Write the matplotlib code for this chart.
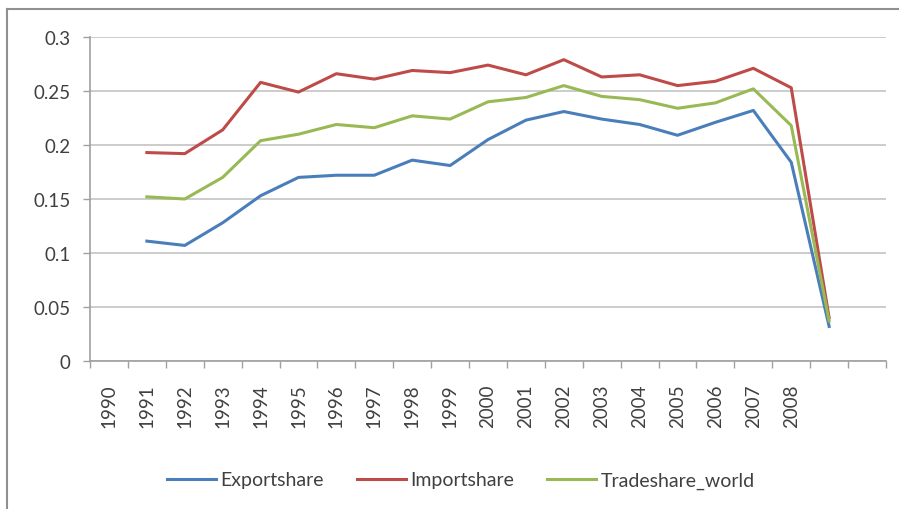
import matplotlib.pyplot as plt
from matplotlib.lines import Line2D

# category axis: 21 slots, only the first 19 carry a label
tick_labels = [str(y) for y in range(1990, 2009)]
n_slots = 21

years = list(range(1991, 2010))
exportshare = [0.111, 0.107, 0.128, 0.153, 0.170, 0.172, 0.172, 0.186, 0.181, 0.205,
               0.223, 0.231, 0.224, 0.219, 0.209, 0.221, 0.232, 0.184, 0.032]
importshare = [0.193, 0.192, 0.214, 0.258, 0.249, 0.266, 0.261, 0.269, 0.267, 0.274,
               0.265, 0.279, 0.263, 0.265, 0.255, 0.259, 0.271, 0.253, 0.040]
tradeshare_world = [0.152, 0.150, 0.170, 0.204, 0.210, 0.219, 0.216, 0.227, 0.224, 0.240,
                    0.244, 0.255, 0.245, 0.242, 0.234, 0.239, 0.252, 0.218, 0.037]

plt.rcParams['font.family'] = ['Lato', 'DejaVu Sans']

fig = plt.figure(figsize=(8.99, 5.10), dpi=100)
ax = fig.add_axes([90 / 899, 1 - 362 / 510, 796 / 899, 324 / 510])

x = [y - 1990 + 0.5 for y in years]
ax.plot(x, exportshare, color='#4A7EBB', lw=2.2, label='Exportshare', zorder=3)
ax.plot(x, importshare, color='#BE4B48', lw=2.2, label='Importshare', zorder=3)
ax.plot(x, tradeshare_world, color='#98B954', lw=2.2, label='Tradeshare_world', zorder=3)

ax.set_xlim(0, n_slots)
ax.set_ylim(0, 0.3)

yt = [0, 0.05, 0.1, 0.15, 0.2, 0.25, 0.3]
ax.set_yticks(yt)
ax.set_yticklabels(['0', '0.05', '0.1', '0.15', '0.2', '0.25', '0.3'], fontsize=13.5, color='#404040')
ax.yaxis.grid(True, color='#C8C8C8', lw=1.3)
ax.set_axisbelow(True)

ax.set_xticks(range(n_slots + 1))
ax.set_xticklabels([])
ax.set_xticks([i + 0.5 for i in range(len(tick_labels))], minor=True)
ax.set_xticklabels(tick_labels, minor=True, rotation=90, fontsize=13.5, color='#404040')
ax.tick_params(axis='x', which='major', length=5, color='#A0A0A0', width=1)
ax.tick_params(axis='x', which='minor', length=0, pad=16)
ax.tick_params(axis='y', length=5, color='#A0A0A0', width=1, pad=9)

for side in ['top', 'right']:
    ax.spines[side].set_visible(False)
for side in ['left', 'bottom']:
    ax.spines[side].set_color('#A0A0A0')
    ax.spines[side].set_linewidth(1.2)

# chart area border (only left and top are visible in the crop)
fig.add_artist(Line2D([7 / 899, 7 / 899], [0, 1 - 10 / 510], color='#909090', lw=1.5))
fig.add_artist(Line2D([7 / 899, 1], [1 - 10 / 510, 1 - 10 / 510], color='#909090', lw=1.5))

fig.legend(loc='center', bbox_to_anchor=(461 / 899, 1 - 481 / 510), ncol=3, frameon=False,
           fontsize=14, handlelength=2.5, handletextpad=0.25, columnspacing=1.7,
           labelcolor='#404040')

fig.savefig('out.png', dpi=100)
